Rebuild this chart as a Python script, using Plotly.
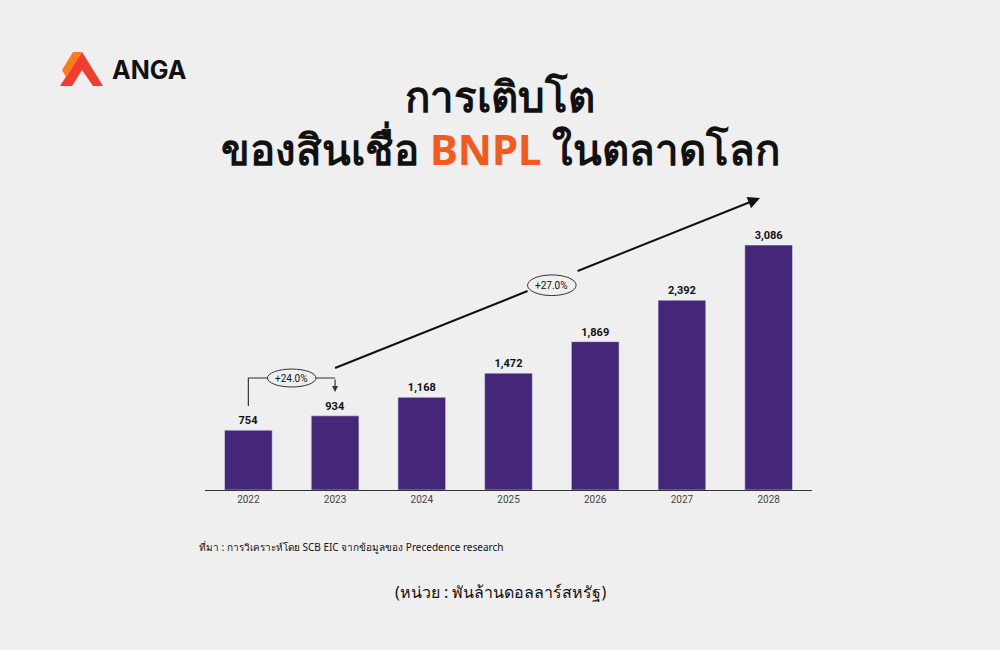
import plotly.graph_objects as go

years = ["2022","2023","2024","2025","2026","2027","2028"]
values = [754, 934, 1168, 1472, 1869, 2392, 3086]
labels = ["754","934","1,168","1,472","1,869","2,392","3,086"]

L, R, T, B = 205, 812, 190, 490
W, H = 1000, 650
def px(x): return (x - L) / (R - L)
def py(y): return (B - y) / (B - T)

fig = go.Figure(go.Bar(x=list(range(7)), y=values, marker_color="#45277a", width=0.55,
                       text=[f"<b>{t}</b>" for t in labels], textposition="outside", cliponaxis=False,
                       textfont=dict(family="Roboto", size=11, color="#111"), hoverinfo="skip"))

ann = []
def pa(x, y, text, size, color="#111", bold=False, xanchor="center", fam="Noto Sans"):
    ann.append(dict(x=px(x), y=py(y), xref="paper", yref="paper", text=(f"<b>{text}</b>" if bold else text),
                    showarrow=False, xanchor=xanchor, yanchor="middle",
                    font=dict(family=fam, size=size, color=color)))

pa(500, 95, "การเติบโต", 42, bold=True)
pa(500, 148, "ของสินเชื่อ <span style='color:#f25a1e'>BNPL</span> ในตลาดโลก", 42, bold=True)
pa(110, 70, "ANGA", 25, bold=True, xanchor="left", fam="Inter")
pa(197, 547, "ที่มา : การวิเคราะห์โดย SCB EIC จากข้อมูลของ Precedence research", 10, xanchor="left")
pa(500, 592, "(หน่วย : พันล้านดอลลาร์สหรัฐ)", 16)

ann.append(dict(x=5.9, y=3678, ax=3.78, ay=2752, xref="x", yref="y", axref="x", ayref="y",
                showarrow=True, arrowhead=2, arrowsize=1.2, arrowwidth=2, arrowcolor="#111", text=""))
ann.append(dict(x=1.0, y=1234, ax=1.0, ay=1411, xref="x", yref="y", axref="x", ayref="y",
                showarrow=True, arrowhead=2, arrowsize=1, arrowwidth=1.2, arrowcolor="#333", text=""))
shapes = [
    dict(type="line", xref="x", yref="y", x0=1.0, y0=1537, x1=3.22, y1=2507, line=dict(color="#111", width=2)),
    dict(type="path", xref="x", yref="y", path="M 0,1058 L 0,1411 L 1,1411", line=dict(color="#333", width=1.2)),
    dict(type="circle", xref="x", yref="y", x0=0.22, x1=0.78, y0=1298, y1=1524, fillcolor="#efefef", line=dict(color="#333", width=1)),
    dict(type="circle", xref="x", yref="y", x0=3.22, x1=3.78, y0=2450, y1=2710, fillcolor="#efefef", line=dict(color="#333", width=1)),
    dict(type="path", xref="paper", yref="paper",
         path=f"M {px(60)},{py(86)} L {px(82)},{py(52)} L {px(103)},{py(86)} L {px(93)},{py(86)} L {px(82)},{py(70)} L {px(72)},{py(86)} Z",
         fillcolor="#f23d2e", line=dict(width=0)),
    dict(type="path", xref="paper", yref="paper",
         path=f"M {px(73)},{py(52)} L {px(82)},{py(52)} L {px(66)},{py(77)} L {px(62)},{py(70)} Z",
         fillcolor="#ff7a1a", line=dict(width=0)),
]
ann.append(dict(x=0.5, y=1411, xref="x", yref="y", text="+24.0%", showarrow=False, font=dict(family="Roboto", size=10, color="#111")))
ann.append(dict(x=3.5, y=2580, xref="x", yref="y", text="+27.0%", showarrow=False, font=dict(family="Roboto", size=10, color="#111")))

fig.update_layout(width=W, height=H, margin=dict(l=L, r=W-R, t=T, b=H-B),
                  paper_bgcolor="#efefef", plot_bgcolor="#efefef", showlegend=False,
                  annotations=ann, shapes=shapes,
                  xaxis=dict(tickvals=list(range(7)), ticktext=years, range=[-0.5, 6.5], showline=True,
                             linecolor="#333", linewidth=1, ticks="", tickfont=dict(family="Roboto", size=10, color="#444"),
                             showgrid=False, fixedrange=True),
                  yaxis=dict(range=[0, 3780], visible=False, showgrid=False, fixedrange=True))
fig.write_html("out.html", config={"displayModeBar": False},
               post_script="document.body.style.margin='0';document.body.style.background='#efefef';")
